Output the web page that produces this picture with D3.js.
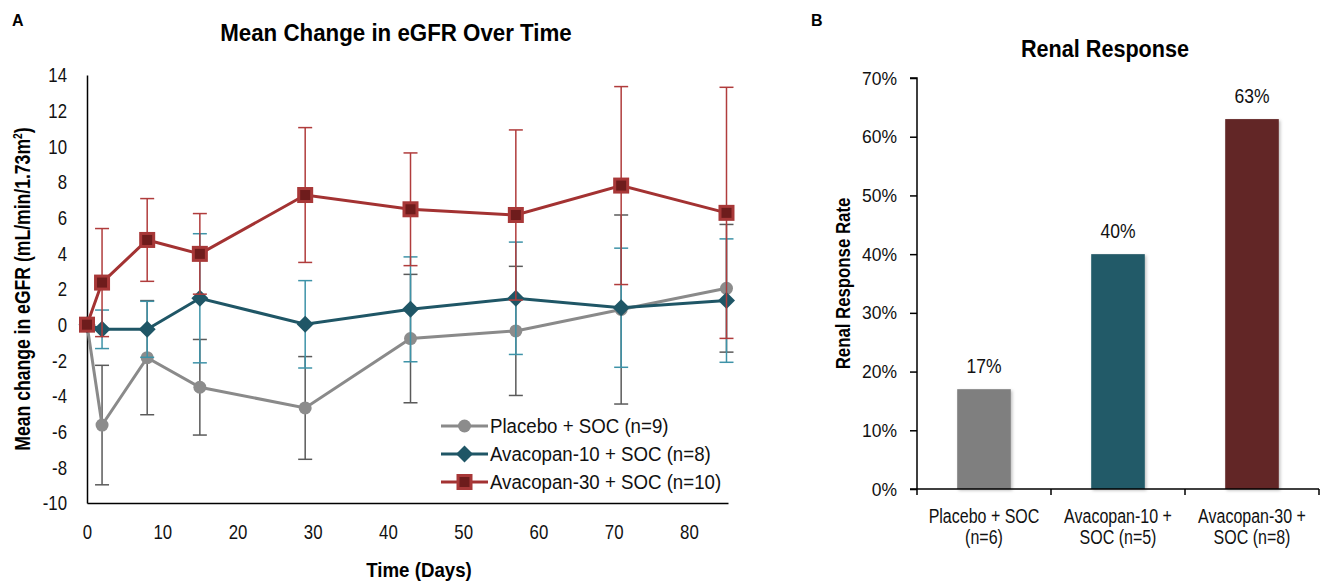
<!DOCTYPE html>
<html><head><meta charset="utf-8">
<script src="https://cdn.jsdelivr.net/npm/d3@7"></script>
<style>
html,body{margin:0;padding:0;background:#fff;}
svg text{font-family:"Liberation Sans",Arial,sans-serif;}
</style></head>
<body><svg id="c" width="1343" height="581"></svg>
<script>
// ---- Data (Panel A) ----
const days = [0, 2, 8, 15, 29, 43, 57, 71, 85];
const seriesNames = ["Placebo + SOC (n=9)", "Avacopan-10 + SOC (n=8)", "Avacopan-30 + SOC (n=10)"];
const placeboMean = [0, -5.63, -1.85, -3.51, -4.67, -0.78, -0.35, 0.85, 2.04];
const placeboErr  = [0, 3.35, 3.2, 2.68, 2.88, 3.6, 3.62, 5.3, 3.58];
const ava10Mean   = [0, -0.26, -0.26, 1.48, 0.02, 0.86, 1.48, 0.95, 1.35];
const ava10Err    = [0, 1.08, 1.57, 3.62, 2.45, 2.94, 3.15, 3.34, 3.46];
const ava30Mean   = [0, 2.36, 4.75, 3.97, 7.27, 6.47, 6.15, 7.8, 6.27];
const ava30Err    = [0, 3.03, 2.32, 2.26, 3.78, 3.16, 4.77, 5.55, 7.04];
const yTicksA = [-10, -8, -6, -4, -2, 0, 2, 4, 6, 8, 10, 12, 14];
const xTicksA = [0, 10, 20, 30, 40, 50, 60, 70, 80];

// ---- Data (Panel B) ----
const groupsB = [["Placebo + SOC", "(n=6)"], ["Avacopan-10 +", "SOC (n=5)"], ["Avacopan-30 +", "SOC (n=8)"]];
const responseRate = [0.17, 0.40, 0.63];
const yTicksB = [0, 0.1, 0.2, 0.3, 0.4, 0.5, 0.6, 0.7];

const svg = d3.select("#c");

// condense text horizontally (reference uses a narrow face)
function condense(sel, f) {
  sel.each(function () {
    const w = this.getComputedTextLength();
    d3.select(this).attr("textLength", (w * f).toFixed(2)).attr("lengthAdjust", "spacingAndGlyphs");
  });
}
function label(x0, y0, txt, size, f, opts = {}) {
  const t = svg.append("text")
    .attr("transform", `translate(${x0},${y0})${opts.rot ? " rotate(-90)" : ""} scale(${f},1)`)
    .attr("text-anchor", opts.anchor || "middle").attr("font-size", size)
    .attr("font-weight", opts.bold ? "bold" : null).attr("fill", opts.fill || "#111");
  if (opts.html) t.html(txt); else t.text(txt);
  return t;
}
const plainInt = d => String(d);

// ================= Panel A =================
const A = {left: 87, right: 728, top: 75, bottom: 503};
const x = d3.scaleLinear().domain([0, 85.2]).range([A.left, A.right]);
const y = d3.scaleLinear().domain([-10, 14]).range([A.bottom, A.top]);

label(12, 26, "A", 16, 1, {bold: true, anchor: "start", fill: "#000"});
label(396, 41, "Mean Change in eGFR Over Time", 24, 0.93, {bold: true, fill: "#000"});

const yAxA = svg.append("g").attr("transform", `translate(${A.left},0)`)
  .call(d3.axisLeft(y).tickValues(yTicksA).tickSize(0).tickPadding(20).tickFormat(plainInt));
yAxA.select(".domain").attr("stroke", "#000").attr("stroke-width", 1.5);
yAxA.selectAll("text").attr("font-size", 21).attr("fill", "#111");
condense(yAxA.selectAll("text"), 0.8);

const xAxA = svg.append("g").attr("transform", `translate(0,${A.bottom})`)
  .call(d3.axisBottom(x).tickValues(xTicksA).tickSize(0).tickPadding(21).tickFormat(plainInt));
xAxA.select(".domain").attr("stroke", "#000").attr("stroke-width", 1.5);
xAxA.selectAll("text").attr("font-size", 21).attr("fill", "#111");
condense(xAxA.selectAll("text"), 0.8);

label(30, (A.top + A.bottom) / 2, 'Mean change in eGFR (mL/min/1.73m<tspan dy="-8" font-size="13">2</tspan><tspan dy="8">)</tspan>',
  22, 0.8, {bold: true, rot: true, html: true, fill: "#000"});
label(419, 577, "Time (Days)", 21, 0.89, {bold: true, fill: "#000"});

const series = [
  {name: seriesNames[0], mean: placeboMean, err: placeboErr, line: "#8a8a8a", errC: "#5a5a5a", marker: "circle", fill: "#8c8c8c"},
  {name: seriesNames[1], mean: ava10Mean, err: ava10Err, line: "#1f5666", errC: "#3e93a8", marker: "diamond", fill: "#1f5666"},
  {name: seriesNames[2], mean: ava30Mean, err: ava30Err, line: "#a33232", errC: "#b03c3c", marker: "square", fill: "#a83838", inner: "#6e1c1c"}
];

function drawMarker(g, s, cx, cy) {
  if (s.marker === "circle") {
    g.append("circle").attr("cx", cx).attr("cy", cy).attr("r", 6.5).attr("fill", s.fill);
  } else if (s.marker === "diamond") {
    g.append("path").attr("d", `M${cx},${cy - 8.5}L${cx + 8.5},${cy}L${cx},${cy + 8.5}L${cx - 8.5},${cy}Z`).attr("fill", s.fill);
  } else {
    g.append("rect").attr("x", cx - 6.5).attr("y", cy - 6.5).attr("width", 13).attr("height", 13)
      .attr("fill", s.inner).attr("stroke", s.fill).attr("stroke-width", 3);
  }
}

const line = d3.line().x((d, i) => x(days[i])).y(d => y(d));
series.forEach(s => {
  const g = svg.append("g");
  days.forEach((d, i) => {
    if (s.err[i] <= 0) return;
    const cx = x(d), y1 = y(s.mean[i] + s.err[i]), y2 = y(s.mean[i] - s.err[i]);
    g.append("line").attr("x1", cx).attr("x2", cx).attr("y1", y1).attr("y2", y2).attr("stroke", s.errC).attr("stroke-width", 1.5);
    [y1, y2].forEach(yy => g.append("line").attr("x1", cx - 7).attr("x2", cx + 7).attr("y1", yy).attr("y2", yy)
      .attr("stroke", s.errC).attr("stroke-width", 1.5));
  });
  g.append("path").datum(s.mean).attr("d", line).attr("fill", "none").attr("stroke", s.line).attr("stroke-width", 3);
  s.mean.forEach((v, i) => drawMarker(g, s, x(days[i]), y(v)));
});

// legend
const legY = [426, 454, 482];
series.forEach((s, i) => {
  const g = svg.append("g");
  g.append("line").attr("x1", 441).attr("x2", 488).attr("y1", legY[i]).attr("y2", legY[i]).attr("stroke", s.line).attr("stroke-width", 3);
  drawMarker(g, s, 464.5, legY[i]);
  label(490, legY[i] + 7, s.name, 21, 0.89, {anchor: "start"});
});

// ================= Panel B =================
const B = {left: 917, right: 1319, top: 78, bottom: 489};
const xb = d3.scaleBand().domain(groupsB.map((d, i) => i)).range([B.left, B.right]).paddingInner(0.6).paddingOuter(0.3);
const xbEdge = d3.scaleBand().domain(groupsB.map((d, i) => i)).range([B.left, B.right]);
const yb = d3.scaleLinear().domain([0, 0.7]).range([B.bottom, B.top]);
const barColors = ["#7f7f7f", "#235a68", "#622526"];

label(811, 26, "B", 16, 1, {bold: true, anchor: "start", fill: "#000"});
label(1105, 57, "Renal Response", 24, 0.9, {bold: true, fill: "#000"});

const defs = svg.append("defs");
const f = defs.append("filter").attr("id", "sh").attr("x", "-20%").attr("y", "-10%").attr("width", "140%").attr("height", "120%");
f.append("feDropShadow").attr("dx", 1.5).attr("dy", 1.5).attr("stdDeviation", 1.5).attr("flood-color", "#000").attr("flood-opacity", 0.25);

svg.append("g").selectAll("rect").data(responseRate).join("rect")
  .attr("x", (d, i) => xb(i)).attr("width", xb.bandwidth())
  .attr("y", d => yb(d)).attr("height", d => yb(0) - yb(d))
  .attr("fill", (d, i) => barColors[i]).attr("filter", "url(#sh)");

responseRate.forEach((d, i) => label(xb(i) + xb.bandwidth() / 2, yb(d) - 16.5, d3.format(".0%")(d), 20, 0.875));

const yAxB = svg.append("g").attr("transform", `translate(${B.left},0)`)
  .call(d3.axisLeft(yb).tickValues(yTicksB).tickSize(7).tickPadding(13).tickFormat(d3.format(".0%")));
yAxB.select(".domain").attr("stroke", "#000").attr("stroke-width", 1.5).attr("d", `M-7,${B.top}H0V${B.bottom}`);
yAxB.selectAll("line").attr("stroke", "#000").attr("stroke-width", 1.5);
yAxB.selectAll("text").attr("font-size", 19).attr("fill", "#111");
condense(yAxB.selectAll("text"), 0.92);

const xAxB = svg.append("g");
xAxB.append("line").attr("x1", B.left - 7).attr("x2", B.right).attr("y1", B.bottom).attr("y2", B.bottom).attr("stroke", "#000").attr("stroke-width", 1.5);
const edges = groupsB.map((d, i) => xbEdge(i)).concat([B.right]);
edges.forEach(e => xAxB.append("line").attr("x1", e).attr("x2", e).attr("y1", B.bottom).attr("y2", B.bottom + 6).attr("stroke", "#000").attr("stroke-width", 1.5));
groupsB.forEach((lines, i) => {
  lines.forEach((l, k) => label(xb(i) + xb.bandwidth() / 2, 523 + k * 21, l, 20, 0.8));
});

label(850, (B.top + B.bottom) / 2, "Renal Response Rate", 21, 0.8, {bold: true, rot: true, fill: "#000"});
</script></body></html>
